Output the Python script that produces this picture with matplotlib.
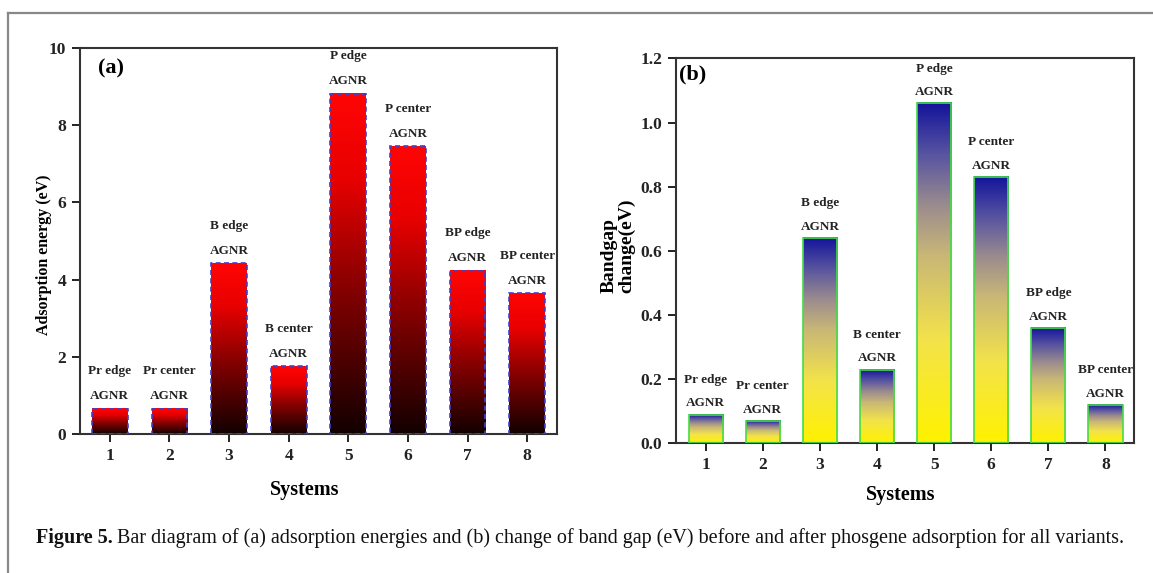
import numpy as np
import matplotlib
matplotlib.use('Agg')
import matplotlib.pyplot as plt
from matplotlib.colors import LinearSegmentedColormap
from matplotlib.lines import Line2D

# dados
sistemas = [1, 2, 3, 4, 5, 6, 7, 8]
rotulos = ['Pr edge', 'Pr center', 'B edge', 'B center',
           'P edge', 'P center', 'BP edge', 'BP center']
energia_adsorcao = [0.65, 0.65, 4.43, 1.75, 8.81, 7.45, 4.23, 3.64]
variacao_gap = [0.09, 0.07, 0.64, 0.23, 1.06, 0.83, 0.36, 0.12]

plt.rcParams['font.family'] = ['Liberation Serif', 'DejaVu Serif']
plt.rcParams['font.weight'] = 'bold'

W, H = 1153, 573
fig = plt.figure(figsize=(W / 100, H / 100), dpi=100)

# gradientes das barras
cmap_a = LinearSegmentedColormap.from_list(
    'vermelho', [(0.0, '#120000'), (0.45, '#8c0000'), (0.75, '#e80000'), (1.0, '#ff0505')])
cmap_b = LinearSegmentedColormap.from_list(
    'azulamarelo', [(0.0, '#fff200'), (0.3, '#f3e34a'), (0.55, '#c9b776'),
                    (0.7, '#9a8b8e'), (0.85, '#5753a0'), (1.0, '#13139b')])

largura = 0.6


def painel(ax, valores, cmap, cor_borda, estilo_borda, ylim, yticks, fmt,
           off1, off2):
    grad = np.linspace(0, 1, 256).reshape(-1, 1)
    for x, v in zip(sistemas, valores):
        ax.imshow(grad, cmap=cmap, origin='lower', aspect='auto',
                  extent=(x - largura / 2, x + largura / 2, 0, v), zorder=2)
    ax.bar(sistemas, valores, width=largura, fill=False, edgecolor=cor_borda,
           linewidth=1.2, linestyle=estilo_borda, zorder=3)
    for x, v, r in zip(sistemas, valores, rotulos):
        ax.annotate('AGNR', (x, v), xytext=(0, off1), textcoords='offset points',
                    ha='center', va='center', fontsize=9.5, fontweight='bold',
                    color='#222222')
        ax.annotate(r, (x, v), xytext=(0, off2), textcoords='offset points',
                    ha='center', va='center', fontsize=9.5, fontweight='bold',
                    color='#222222')
    ax.set_xlim(0.5, 8.5)
    ax.set_ylim(*ylim)
    ax.set_xticks(sistemas)
    ax.set_yticks(yticks)
    ax.set_yticklabels([fmt % t for t in yticks])
    ax.tick_params(direction='out', length=6, width=1.4, labelsize=12.5,
                   colors='#222222', pad=4)
    for s in ax.spines.values():
        s.set_linewidth(1.5)
        s.set_color('#333333')


ax1 = fig.add_axes([80 / W, 1 - 434 / H, 477 / W, 386 / H])
painel(ax1, energia_adsorcao, cmap_a, '#4040d0', (0, (3, 2)), (0, 10),
       [0, 2, 4, 6, 8, 10], '%d', 9, 27)
ax1.set_xlabel('Systems', fontsize=14.5, fontweight='bold')
ax1.xaxis.label.set_va('center')
ax1.xaxis.set_label_coords(0.47, -0.145)
ax1.set_ylabel('Adsorption energy (eV)', fontsize=11.5, fontweight='bold')
ax1.yaxis.label.set_va('center')
ax1.yaxis.set_label_coords(-0.076, 0.464)
ax1.text(0.065, 0.946, '(a)', transform=ax1.transAxes, fontsize=16,
         fontweight='bold', ha='center', va='center')

ax2 = fig.add_axes([676 / W, 1 - 443.4 / H, 458 / W, 385 / H])
painel(ax2, variacao_gap, cmap_b, '#44dd44', '-', (0, 1.2),
       [0.0, 0.2, 0.4, 0.6, 0.8, 1.0, 1.2], '%.1f', 8, 25)
ax2.set_xlim(0.48, 8.5)
ax2.set_xlabel('Systems', fontsize=14.5, fontweight='bold')
ax2.xaxis.label.set_va('center')
ax2.xaxis.set_label_coords(0.49, -0.134)
ax2.set_ylabel('Bandgap\nchange(eV)', fontsize=14, fontweight='bold',
               multialignment='left', linespacing=1.0)
ax2.yaxis.label.set_va('center')
ax2.yaxis.set_label_coords(-0.127, 0.513)
ax2.text(0.037, 0.957, '(b)', transform=ax2.transAxes, fontsize=16,
         fontweight='bold', ha='center', va='center')

# moldura cinza externa
fig.add_artist(Line2D([8 / W, 1], [1 - 13 / H, 1 - 13 / H], color='#888888', lw=1.6))
fig.add_artist(Line2D([8 / W, 8 / W], [0, 1 - 13 / H], color='#888888', lw=1.6))

# legenda da figura
t1 = fig.text(36 / W, 1 - 538 / H, 'Figure 5.', fontsize=14.5, fontweight='bold',
              va='center', ha='left', color='#111111')
fig.canvas.draw()
bb = t1.get_window_extent()
fig.text(bb.x1 / W + 4 / W, 1 - 538 / H,
         'Bar diagram of (a) adsorption energies and (b) change of band gap (eV) '
         'before and after phosgene adsorption for all variants.',
         fontsize=14.5, fontweight='normal', va='center', ha='left', color='#111111')

fig.savefig('out.png', dpi=100)
